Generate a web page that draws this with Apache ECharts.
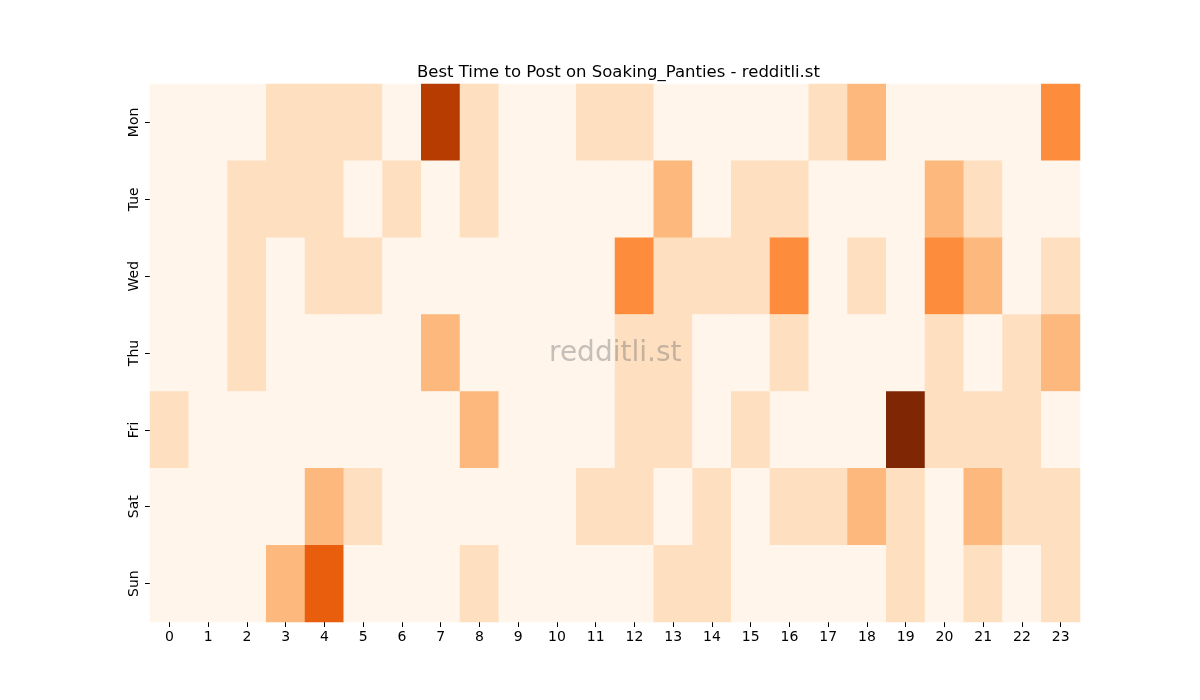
<!DOCTYPE html>
<html>
<head>
<meta charset="utf-8">
<script src="https://cdn.jsdelivr.net/npm/echarts@6/dist/echarts.min.js"></script>
<style>
  html, body { margin: 0; padding: 0; background: #fff; }
  #chart { width: 1200px; height: 700px; }
</style>
</head>
<body>
<div id="chart"></div>
<script>
const hours = ["0", "1", "2", "3", "4", "5", "6", "7", "8", "9", "10", "11",
  "12", "13", "14", "15", "16", "17", "18", "19", "20", "21", "22", "23"];
const days = ["Mon", "Tue", "Wed", "Thu", "Fri", "Sat", "Sun"];

// post counts per hour, one list per day
const mon = [0, 0, 0, 1, 1, 1, 0, 5, 1, 0, 0, 1, 1, 0, 0, 0, 0, 1, 2, 0, 0, 0, 0, 3];
const tue = [0, 0, 1, 1, 1, 0, 1, 0, 1, 0, 0, 0, 0, 2, 0, 1, 1, 0, 0, 0, 2, 1, 0, 0];
const wed = [0, 0, 1, 0, 1, 1, 0, 0, 0, 0, 0, 0, 3, 1, 1, 1, 3, 0, 1, 0, 3, 2, 0, 1];
const thu = [0, 0, 1, 0, 0, 0, 0, 2, 0, 0, 0, 0, 1, 1, 0, 0, 1, 0, 0, 0, 1, 0, 1, 2];
const fri = [1, 0, 0, 0, 0, 0, 0, 0, 2, 0, 0, 0, 1, 1, 0, 1, 0, 0, 0, 6, 1, 1, 1, 0];
const sat = [0, 0, 0, 0, 2, 1, 0, 0, 0, 0, 0, 1, 1, 0, 1, 0, 1, 1, 2, 1, 0, 2, 1, 1];
const sun = [0, 0, 0, 2, 4, 0, 0, 0, 1, 0, 0, 0, 0, 1, 1, 0, 0, 0, 0, 1, 0, 1, 0, 1];
const rows = [mon, tue, wed, thu, fri, sat, sun];

const cells = [];
rows.forEach((row, d) => {
  row.forEach((v, h) => cells.push([h, d, v]));
});

const chart = echarts.init(document.getElementById("chart"));

const font = "DejaVu Sans";

const option = {
  backgroundColor: "#ffffff",
  animation: false,
  title: {
    text: "Best Time to Post on Soaking_Panties - redditli.st",
    left: 412,
    top: 59,
    textStyle: {
      fontFamily: font,
      fontSize: 16.5,
      fontWeight: "normal",
      color: "#000"
    }
  },
  grid: {
    left: 150,
    right: 120,
    top: 84,
    bottom: 78
  },
  xAxis: {
    type: "category",
    data: hours,
    axisLine: {show: false},
    axisTick: {
      show: true,
      alignWithLabel: true,
      length: 5,
      lineStyle: {color: "#000"}
    },
    axisLabel: {
      fontFamily: font,
      fontSize: 14,
      color: "#000",
      margin: 8
    },
    splitArea: {show: false},
    splitLine: {show: false}
  },
  yAxis: {
    type: "category",
    data: days,
    inverse: true,
    axisLine: {show: false},
    axisTick: {
      show: true,
      alignWithLabel: true,
      length: 5,
      lineStyle: {color: "#000"}
    },
    axisLabel: {
      fontFamily: font,
      fontSize: 14,
      color: "#000",
      rotate: 90,
      margin: 9
    },
    splitArea: {show: false},
    splitLine: {show: false}
  },
  visualMap: {
    show: false,
    type: "continuous",
    min: 0,
    max: 6,
    inRange: {
      color: ["#fff5eb", "#fee6ce", "#fdd0a2", "#fdae6b", "#fd8d3c",
        "#f16913", "#d94801", "#a63603", "#7f2704"]
    }
  },
  graphic: [
    {
      type: "text",
      left: 615 - 66,
      top: 340,
      z: 100,
      style: {
        text: "redditli.st",
        fontFamily: font,
        fontSize: 28,
        fill: "rgba(110,110,110,0.4)"
      }
    }
  ],
  series: [
    {
      type: "heatmap",
      data: cells,
      itemStyle: {borderWidth: 0},
      emphasis: {disabled: true}
    }
  ]
};

chart.setOption(option);
</script>
</body>
</html>
